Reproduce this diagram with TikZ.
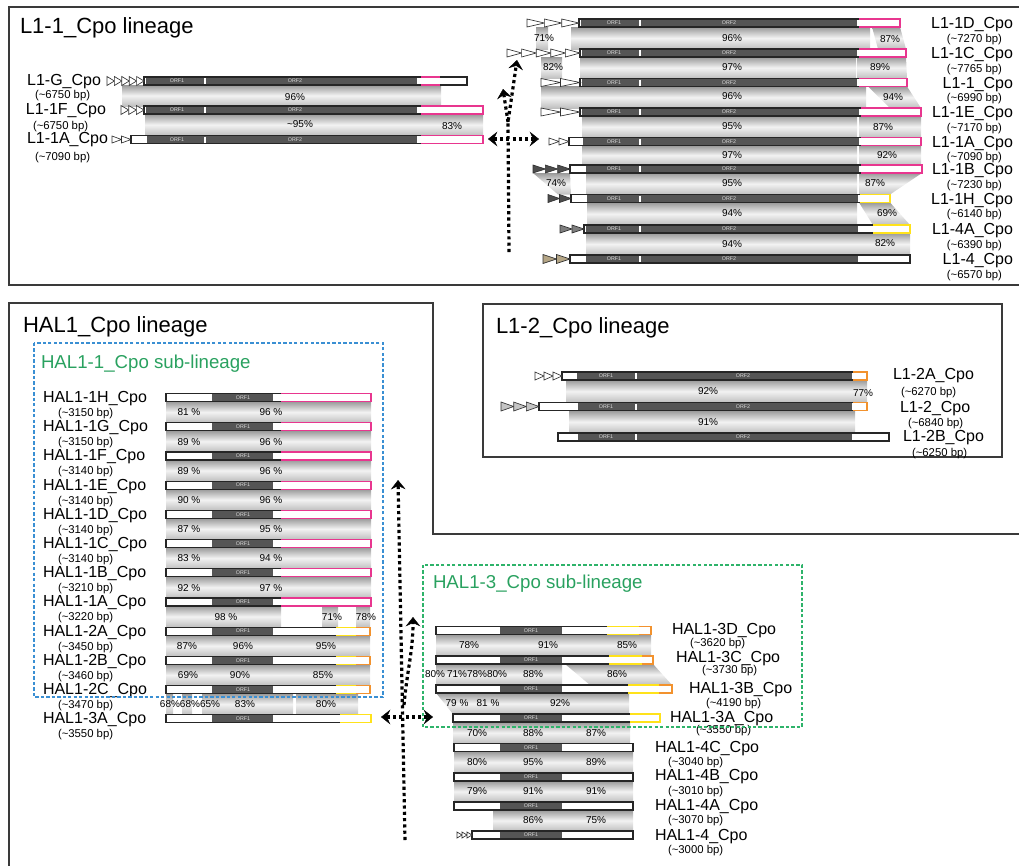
\documentclass[tikz,border=0pt]{standalone}
\usepackage{fontspec}
\setmainfont{Liberation Sans}
\usetikzlibrary{arrows.meta}
\definecolor{orfgray}{HTML}{555555}
\definecolor{tailpink}{HTML}{E8368F}
\definecolor{tailyellow}{HTML}{FFE21A}
\definecolor{tailorange}{HTML}{F2922E}
\definecolor{ltrdark}{HTML}{4D4D4D}
\definecolor{ltrgray}{HTML}{7F7F7F}
\definecolor{ltrtan}{HTML}{B4A585}
\definecolor{ltrlight}{HTML}{C4C4C4}
\definecolor{subblue}{HTML}{3A8FD3}
\definecolor{subgreen}{HTML}{2EB36A}
\definecolor{paneledge}{HTML}{3A3A3A}

% element body: y, left, right, orf from, orf to
\newcommand{\elem}[5]{%
  \fill[white] (#2,#1-4) rectangle (#3,#1+4);
  \fill[orfgray] (#4,#1-4) rectangle (#5,#1+4);
  \draw[elemline] (#2,#1-4) rectangle (#3,#1+4);}
% coloured 3' segments: colour, from, to, y
\newcommand{\tailmid}[4]{\draw[#1,tail] (#2,#4-4) -- (#3,#4-4) (#2,#4+4) -- (#3,#4+4);}
\newcommand{\tailend}[4]{\draw[#1,tail] (#2,#4-4) -- (#3,#4-4) -- (#3,#4+4) -- (#2,#4+4);}
% tandem repeats: count, from, to, y, half height, fill
\newcommand{\ltrs}[6]{%
  \pgfmathsetmacro\ltrw{(#3-#2)/#1}
  \foreach \k in {1,...,#1}{
    \draw[tri, fill=#6] ({#2+(\k-1)*\ltrw},#4-#5) -- ({#2+\k*\ltrw},#4) -- ({#2+(\k-1)*\ltrw},#4+#5) -- cycle;
  }}
% identity bands
\newcommand{\band}[4]{\shade[band] (#1,#3) rectangle (#2,#4);}
\newcommand{\bandq}[6]{\shade[band] (#1,#5) -- (#2,#5) -- (#4,#6) -- (#3,#6) -- cycle;}
% ORF labels
\newcommand{\orftwo}[5]{%
  \node[orflab] (#1-o1) at (#3,#2) {ORF1};
  \draw[orfdiv] (#4,#2-3) -- (#4,#2+3);
  \node[orflab] (#1-o2) at (#5,#2) {ORF2};}
\newcommand{\orfone}[3]{\node[orflab] (#1-o1) at (#3,#2) {ORF1};}

\begin{document}
\begin{tikzpicture}[
    x=0.75pt, y=-0.75pt,
    every node/.style={inner sep=0pt, outer sep=0pt},
    title/.style={font=\fontsize{16.5}{18}\selectfont, anchor=base west},
    subtitle/.style={font=\fontsize{14}{16}\selectfont, text=subgreen!90!black, anchor=base west},
    elabel/.style={font=\fontsize{12}{14}\selectfont},
    bplabel/.style={font=\fontsize{8.5}{10}\selectfont},
    pct/.style={font=\fontsize{7.5}{9}\selectfont},
    orflab/.style={font=\fontsize{4}{5}\selectfont, text=white!85!black},
    elemline/.style={draw=black!85, line width=0.9pt},
    tail/.style={line width=0.9pt},
    orfdiv/.style={draw=white, line width=0.8pt},
    tri/.style={draw=black!80, line width=0.5pt},
    band/.style={top color=black!40, bottom color=black!25, middle color=black!5},
    panel/.style={draw=paneledge, line width=1pt},
    subbox/.style={dash pattern=on 2.5pt off 1.6pt, line width=0.9pt},
    dotarrow/.style={line width=2.4pt, dash pattern=on 2.4pt off 2.3pt, -{Stealth[length=7pt,width=11pt,inset=2.6pt,line width=0.3pt]}},
    dotboth/.style={line width=2.4pt, dash pattern=on 2.4pt off 2.3pt, {Stealth[length=7pt,width=11pt,inset=2.6pt,line width=0.3pt]}-{Stealth[length=7pt,width=11pt,inset=2.6pt,line width=0.3pt]}}
]
\useasboundingbox (0,0) rectangle (1019,865);

% Panels
\draw[panel] (9,7) rectangle (1025,285);
\node[title] (l11title) at (20,33) {L1-1\_Cpo lineage};
\draw[panel] (483,304) rectangle (1002,457);
\node[title] (l12title) at (496,333) {L1-2\_Cpo lineage};
\draw[panel] (9,875) -- (9,303) -- (433,303) -- (433,534) -- (1025,534);
\node[title] (hal1title) at (23,332) {HAL1\_Cpo lineage};

% L1-1 lineage, left group
\band{122}{441}{85}{106}
\band{145}{417}{114}{135.5}
\band{417}{483}{114}{135.5}
\elem{81}{144}{467}{146}{417} \tailmid{tailpink}{421}{440}{81}
\ltrs{5}{107}{144}{81}{4.5}{white}
\elem{110}{144}{483}{146}{417} \tailend{tailpink}{421}{483}{110}
\ltrs{3}{121}{144}{110}{4.5}{white}
\elem{139.5}{131}{483}{147}{417} \tailend{tailpink}{421}{483}{139.5}
\ltrs{2}{112}{131}{139.5}{3.5}{white}
\foreach \nm/\cy in {lg/81, l11f/110, l11al/139.5} {\orftwo{\nm}{\cy}{177}{205}{295}}
\node[pct] (lp1) at (295,97) {96\%};
\node[pct] (lp2) at (300,124) {\textasciitilde95\%};
\node[pct] (lp3) at (452,126) {83\%};
\node[elabel, anchor=base east] (lg-name) at (101,85) {L1-G\_Cpo};
\node[bplabel, anchor=base west] (lg-bp) at (35,98) {(\textasciitilde6750 bp)};
\node[elabel, anchor=base east] (l11f-name) at (106,114.5) {L1-1F\_Cpo};
\node[bplabel, anchor=base west] (l11f-bp) at (33,129) {(\textasciitilde6750 bp)};
\node[elabel, anchor=base east] (l11al-name) at (108,143.5) {L1-1A\_Cpo};
\node[bplabel, anchor=base west] (l11al-bp) at (35,160.5) {(\textasciitilde7090 bp)};

% L1-1 lineage, right group
\band{536}{548}{27}{49}
\band{571}{870}{27}{49}
\bandq{872}{900}{878}{906}{27}{49}
\band{541}{562}{57}{78.5}
\band{580}{856}{57}{78.5}
\bandq{857}{906}{857}{907}{57}{78.5}
\band{541}{866}{86.5}{108}
\bandq{868}{907}{890}{921}{86.5}{108}
\band{582}{857}{116}{137.5}
\band{859}{921}{116}{137.5}
\band{582}{857}{145.5}{165}
\band{859}{921}{145.5}{165}
\bandq{533}{570}{558}{571}{173}{194.5}
\band{586}{857}{173}{194.5}
\bandq{859}{922}{859}{890}{173}{194.5}
\band{587}{857}{202.5}{225}
\bandq{859}{890}{873}{910}{202.5}{225}
\band{586}{858}{233}{255}
\band{858}{910}{233}{255}
\elem{23}{579}{900}{581}{857} \tailend{tailpink}{859}{900}{23}
\ltrs{3}{527}{579}{23}{4}{white}
\elem{53}{580}{906}{582}{857} \tailend{tailpink}{859}{906}{53}
\ltrs{5}{507}{580}{53}{4}{white}
\elem{82.5}{580}{907}{582}{857} \tailend{tailpink}{859}{907}{82.5}
\ltrs{2}{541}{580}{82.5}{4}{white}
\elem{112}{580}{921}{582}{859} \tailend{tailpink}{861}{921}{112}
\ltrs{2}{541}{580}{112}{4}{white}
\elem{141.5}{569}{921}{583}{859} \tailend{tailpink}{861}{921}{141.5}
\ltrs{2}{549}{569}{141.5}{3.5}{white}
\elem{169}{570}{922}{586}{859} \tailend{tailpink}{861}{922}{169}
\ltrs{3}{533}{570}{169}{4}{ltrdark}
\elem{198.5}{571}{890}{587}{858} \tailend{tailyellow}{860}{890}{198.5}
\ltrs{2}{548}{571}{198.5}{4}{ltrdark}
\elem{229}{584}{910}{586}{858} \tailend{tailyellow}{873}{910}{229}
\ltrs{2}{560}{584}{229}{4}{ltrgray}
\elem{259}{570}{910}{586}{858}
\ltrs{2}{543}{570}{259}{4.5}{ltrtan}
\foreach \nm/\cy in {l11d/23, l11c/53, l11/82.5, l11e/112, l11ar/141.5, l11b/169, l11h/198.5, l14a/229, l14/259} {\orftwo{\nm}{\cy}{614}{640}{729}}
\foreach \x/\y/\lab [count=\i] in {544/38/71, 732/38/96, 890/39/87, 553/67/82, 732/67/97, 880/67/89, 732/96/96, 893/97/94, 732/126/95, 883/127/87, 732/155/97, 887/155/92, 556/183/74, 732/183/95, 875/183/87, 732/213/94, 887/213/69, 732/244/94, 885/243/82}
  \node[pct] (rp\i) at (\x,\y) {\lab\%};
\foreach \nm/\cy/\lab/\len in {l11d/23/L1-1D/7270, l11c/53/L1-1C/7765, l11/82.5/L1-1/6990, l11e/112/L1-1E/7170, l11ar/141.5/L1-1A/7090, l11b/169/L1-1B/7230, l11h/198.5/L1-1H/6140, l14a/229/L1-4A/6390, l14/259/L1-4/6570} {
  \node[elabel, anchor=base east] (\nm-name) at (1013,\cy+5.5) {\lab\_Cpo};
  \node[bplabel, anchor=base east] (\nm-bp) at (1002,\cy+19) {(\textasciitilde\len\ bp)};
}

% L1-1 arrows
\coordinate (tbot) at (509,252);
\coordinate (tjoin) at (508,122);
\coordinate (ttipa) at (517,60);
\coordinate (ttipb) at (503,89);
\coordinate (tleft) at (488,139);
\coordinate (tright) at (539,139);
\draw[dotarrow] (tbot) -- (tjoin) -- (ttipa);
\draw[dotarrow] (tjoin) -- (ttipb);
\draw[dotboth] (tleft) -- (tright);

% L1-2 lineage
\band{566}{855}{380}{402.5}
\band{855}{867}{380}{402.5}
\band{569}{855}{410.5}{433}
\elem{376}{562}{867}{577}{852} \tailend{tailorange}{853}{867}{376}
\ltrs{3}{535}{562}{376}{4}{white}
\elem{406.5}{539}{867}{578}{852} \tailend{tailorange}{853}{867}{406.5}
\ltrs{3}{501}{539}{406.5}{4.5}{ltrlight}
\elem{437}{558}{889}{578}{852}
\foreach \nm/\cy in {l12a/376, l12/406.5, l12b/437} {\orftwo{\nm}{\cy}{606}{636}{743}}
\node[pct] (mp1) at (708,391.5) {92\%};
\node[pct] (mp2) at (863,393) {77\%};
\node[pct] (mp3) at (708,422) {91\%};
\node[elabel, anchor=base west] (l12a-name) at (893,379) {L1-2A\_Cpo};
\node[bplabel, anchor=base west] (l12a-bp) at (901,395) {(\textasciitilde6270 bp)};
\node[elabel, anchor=base west] (l12-name) at (900,412) {L1-2\_Cpo};
\node[bplabel, anchor=base west] (l12-bp) at (908,426.5) {(\textasciitilde6840 bp)};
\node[elabel, anchor=base west] (l12b-name) at (903,441.5) {L1-2B\_Cpo};
\node[bplabel, anchor=base west] (l12b-bp) at (912,456) {(\textasciitilde6250 bp)};

% HAL1-1 sub-lineage
\foreach \k in {0,...,6}{
  \pgfmathsetmacro\ya{397.5+29.2*\k+4}
  \pgfmathsetmacro\yb{397.5+29.2*(\k+1)-4}
  \band{166}{212}{\ya}{\yb}
  \band{212}{371}{\ya}{\yb}
}
\band{166}{281}{605.9}{627.1} \band{322}{338}{605.9}{627.1} \band{356}{370}{605.9}{627.1}
\band{166}{212}{635.1}{656.3} \band{212}{273}{635.1}{656.3} \band{273}{370}{635.1}{656.3}
\band{166}{212}{664.3}{685.5} \band{212}{273}{664.3}{685.5} \band{273}{370}{664.3}{685.5}
\band{166}{173}{693.5}{714.7} \band{182}{192}{693.5}{714.7} \band{202}{212}{693.5}{714.7}
\band{212}{293}{693.5}{714.7} \band{296}{358}{693.5}{714.7}
\foreach \nm [count=\k from 0] in {hal11h, hal11g, hal11f, hal11e, hal11d, hal11c, hal11b, hal11a}{
  \pgfmathsetmacro\cy{397.5+29.2*\k}
  \elem{\cy}{166}{371}{212}{273}
  \tailend{tailpink}{281}{371}{\cy}
  \orfone{\nm}{\cy}{243}
}
\foreach \nm/\cy in {hal12a/631.1, hal12b/660.3, hal12c/689.5}{
  \elem{\cy}{166}{370}{212}{273}
  \tailmid{tailyellow}{336}{356}{\cy}
  \tailend{tailorange}{356}{370}{\cy}
  \orfone{\nm}{\cy}{243}
}
\elem{718.7}{166}{371}{212}{273} \tailend{tailyellow}{340}{371}{718.7}
\orfone{hal13al}{718.7}{243}
\foreach \nm/\lab/\len [count=\k from 0] in {hal11h/HAL1-1H/3150, hal11g/HAL1-1G/3150, hal11f/HAL1-1F/3140, hal11e/HAL1-1E/3140, hal11d/HAL1-1D/3140, hal11c/HAL1-1C/3140, hal11b/HAL1-1B/3210, hal11a/HAL1-1A/3220, hal12a/HAL1-2A/3450, hal12b/HAL1-2B/3460, hal12c/HAL1-2C/3470, hal13al/HAL1-3A/3550}{
  \pgfmathsetmacro\cy{397.5+29.2*\k}
  \node[elabel, anchor=base west] (\nm-name) at (43,\cy+5) {\lab\_Cpo};
  \node[bplabel, anchor=base west] (\nm-bp) at (58,\cy+19) {(\textasciitilde\len\ bp)};
}
\foreach \pa/\pb [count=\k from 0] in {81/96, 89/96, 89/96, 90/96, 87/95, 83/94, 92/97}{
  \pgfmathsetmacro\py{397.5+29.2*\k+15}
  \node[pct] (hpa\k) at (189,\py) {\pa\ \%};
  \node[pct] (hpb\k) at (271,\py) {\pb\ \%};
}
\node[pct] (hp1) at (226,617) {98 \%};
\node[pct] (hp2) at (332,617) {71\%};
\node[pct] (hp3) at (366,617) {78\%};
\node[pct] (hp4) at (187,646) {87\%};
\node[pct] (hp5) at (243,646) {96\%};
\node[pct] (hp6) at (326,646) {95\%};
\node[pct] (hp7) at (188,675) {69\%};
\node[pct] (hp8) at (240,675) {90\%};
\node[pct] (hp9) at (323,675) {85\%};
\node[pct] (hp10) at (190,704) {68\%68\%65\%};
\node[pct] (hp11) at (245,704) {83\%};
\node[pct] (hp12) at (326,704) {80\%};
\draw[subbox, draw=subblue] (34,343) rectangle (383,697);
\node[subtitle] (hal11title) at (41,368) {HAL1-1\_Cpo sub-lineage};

% HAL1-3 sub-lineage and HAL1-4
\band{436}{500}{634.5}{656} \band{500}{607}{634.5}{656} \band{607}{651}{634.5}{656}
\band{436}{500}{664}{685} \band{500}{562}{664}{685} \bandq{565}{653}{590}{672}{664}{685}
\bandq{436}{500}{453}{500}{693}{714} \band{500}{629}{693}{714}
\band{453}{500}{722}{743.5} \band{500}{562}{722}{743.5} \band{562}{630}{722}{743.5}
\band{454}{500}{751.5}{773} \band{500}{562}{751.5}{773} \band{562}{633}{751.5}{773}
\band{454}{500}{781}{802} \band{500}{562}{781}{802} \band{562}{633}{781}{802}
\band{493}{562}{810}{831} \band{562}{633}{810}{831}
\elem{630.5}{436}{651}{500}{562} \tailmid{tailyellow}{607}{639}{630.5} \tailend{tailorange}{639}{651}{630.5}
\elem{660}{436}{653}{500}{562} \tailmid{tailyellow}{609}{642}{660} \tailend{tailorange}{642}{653}{660}
\elem{689}{436}{672}{500}{562} \tailmid{tailyellow}{628}{659}{689} \tailend{tailorange}{659}{672}{689}
\elem{718}{453}{660}{500}{562} \tailend{tailyellow}{630}{660}{718}
\elem{747.5}{454}{633}{500}{562}
\elem{777}{454}{633}{500}{562}
\elem{806}{454}{633}{500}{562}
\elem{835}{472}{633}{500}{562}
\ltrs{3}{457}{472}{835}{3}{white}
\foreach \nm/\cy in {hal13d/630.5, hal13c/660, hal13b/689, hal13a/718, hal14c/747.5, hal14b/777, hal14a/806, hal14/835} {\orfone{\nm}{\cy}{531}}
\foreach \x/\y/\lab [count=\i] in {469/645/78\%, 548/645/91\%, 627/645/85\%, 435/674/80\%, 457/674/71\%, 477/674/78\%, 497/674/80\%, 533/674/88\%, 617/674/86\%, 457/703/79 \%, 488/703/81 \%, 560/703/92\%, 477/733/70\%, 533/733/88\%, 596/733/87\%, 477/762/80\%, 533/762/95\%, 596/762/89\%, 477/791/79\%, 533/791/91\%, 596/791/91\%, 533/820/86\%, 596/820/75\%}
  \node[pct] (hr\i) at (\x,\y) {\lab};
\foreach \nm/\lab/\len/\xn/\xb/\yn/\yl in {hal13d/HAL1-3D/3620/672/690/629/642, hal13c/HAL1-3C/3730/676/702/657/669, hal13b/HAL1-3B/4190/689/706/688/702, hal13a/HAL1-3A/3550/670/696/717/729, hal14c/HAL1-4C/3040/655/668/747/761, hal14b/HAL1-4B/3010/655/668/775/790, hal14a/HAL1-4A/3070/655/668/805/819, hal14/HAL1-4/3000/655/668/835/849}{
  \node[elabel, anchor=base west] (\nm-name) at (\xn,\yn+5) {\lab\_Cpo};
  \node[bplabel, anchor=base west] (\nm-bp) at (\xb,\yl+4.5) {(\textasciitilde\len\ bp)};
}
\draw[subbox, draw=subgreen] (423,565) rectangle (802,727);
\node[subtitle] (hal13title) at (433,588) {HAL1-3\_Cpo sub-lineage};

% HAL1 arrows
\coordinate (hbot) at (405,840);
\coordinate (htop) at (398,480);
\coordinate (hjoin) at (404,705);
\coordinate (htip) at (413,617);
\coordinate (hleft) at (381,717);
\coordinate (hright) at (433,717);
\draw[dotarrow] (hbot) -- (htop);
\draw[dotarrow] (hjoin) to[out=85,in=-90] (htip);
\draw[dotboth] (hleft) -- (hright);
\end{tikzpicture}
\end{document}
